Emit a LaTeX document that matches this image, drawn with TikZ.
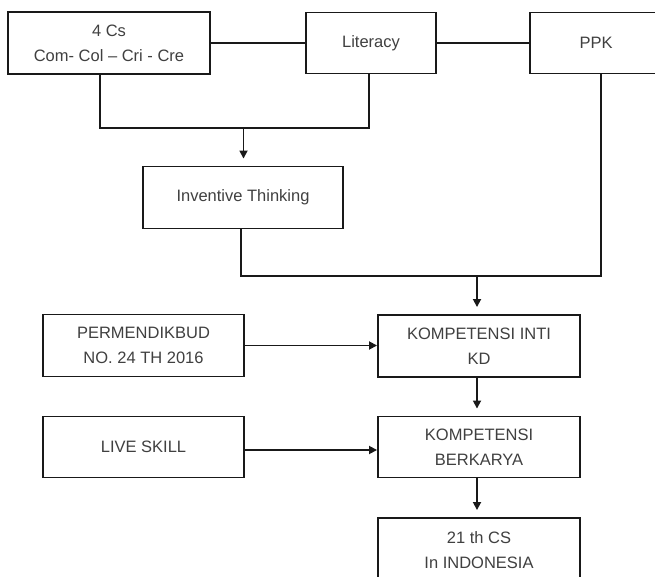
\documentclass[tikz,border=0pt]{standalone}
\usepackage{fontspec}
\setmainfont{Liberation Sans}
\usetikzlibrary{arrows.meta,calc}
\begin{document}
\begin{tikzpicture}[x=1pt,y=-1pt,
  box/.style={draw=black!90,line width=1.9pt,fill=white,align=center,inner sep=0pt,
    font=\fontsize{16.5}{25}\selectfont,text=black!75},
  conn/.style={draw=black!90,line width=1.7pt},
  arr/.style={conn,-{Triangle[length=8pt,width=8pt]}},
  varr/.style={arr,shorten >=7pt}]
\useasboundingbox (0,0) rectangle (655,577);
\clip (0,0) rectangle (655,577);
\node[box,minimum width=202pt,minimum height=62pt] (c4) at (109,43) {4 Cs\\Com- Col -- Cri - Cre};
\node[box,minimum width=130pt,minimum height=61pt] (lit) at (371,43) {Literacy};
\node[box,minimum width=132pt,minimum height=61pt] (ppk) at (596,43) {PPK};
\node[box,minimum width=200pt,minimum height=62pt] (inv) at (243,197.5) {Inventive Thinking};
\node[box,minimum width=201pt,minimum height=62pt] (perm) at (143.5,345.5) {PERMENDIKBUD\\NO. 24 TH 2016};
\node[box,minimum width=202pt,minimum height=62pt] (ki) at (479,346) {KOMPETENSI INTI\\KD};
\node[box,minimum width=201pt,minimum height=61pt] (live) at (143.5,447) {LIVE SKILL};
\node[box,minimum width=202pt,minimum height=61pt] (kb) at (479,447) {KOMPETENSI\\BERKARYA};
\node[box,minimum width=202pt,minimum height=64pt] (cs) at (479,550) {21 th CS\\In INDONESIA};
\coordinate (j1) at (243.5,128);
\coordinate (j2) at (477,276);
\draw[conn] (c4.east) -- (lit.west);
\draw[conn] (lit.east) -- (ppk.west);
\draw[conn] ([xshift=-9pt]c4.south) |- (j1) -| ([xshift=-2pt]lit.south);
\draw[varr] (j1) -- (j1 |- inv.north);
\draw[conn] ([xshift=-2pt]inv.south) |- (j2) -| ([xshift=5pt]ppk.south);
\draw[varr] (j2) -- (j2 |- ki.north);
\draw[arr] (perm.east) -- (perm.east -| ki.west);
\draw[varr] ([xshift=-2pt]ki.south) -- ([xshift=-2pt]kb.north);
\draw[arr] ([yshift=-3pt]live.east) -- ([yshift=-3pt]live.east -| kb.west);
\draw[varr] ([xshift=-2pt]kb.south) -- ([xshift=-2pt]cs.north);
\end{tikzpicture}
\end{document}
